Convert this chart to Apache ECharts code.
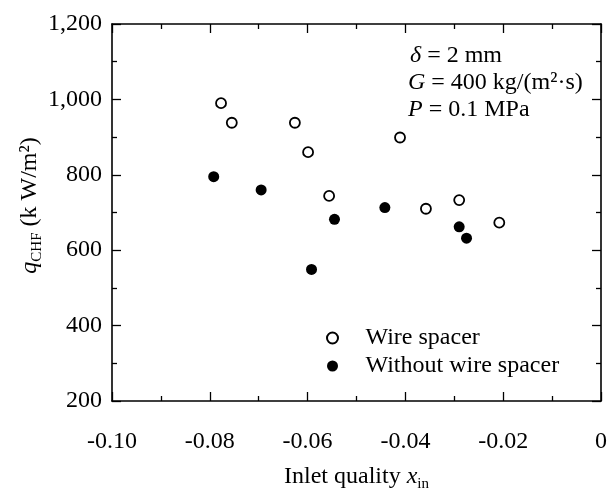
<!DOCTYPE html>
<html>
<head>
<meta charset="utf-8">
<script src="https://cdn.jsdelivr.net/npm/echarts@6/dist/echarts.min.js"></script>
<style>html,body{margin:0;padding:0;background:#fff;}#c{width:607px;height:490px;}</style>
</head>
<body>
<div id="c"></div>
<script>
// Data
const wireX = [-0.0777, -0.0755, -0.0626, -0.0599, -0.0411, -0.0556, -0.0358, -0.0290, -0.0208];
const wireY = [990, 938, 938, 860, 899, 744, 710, 733, 673];
const noWireX = [-0.0792, -0.0695, -0.0592, -0.0545, -0.0442, -0.0290, -0.0275];
const noWireY = [795, 760, 549, 682, 713, 662, 632];
const seriesNames = ['Wire spacer', 'Without wire spacer'];
const xTicks = { min: -0.10, max: 0, step: 0.02 };
const yTicks = { min: 200, max: 1200, step: 200 };

const FONT = 'Liberation Serif';
const pair = (xs, ys) => xs.map((x, i) => [x, ys[i]]);
const fmtX = v => (Math.abs(v) < 1e-9 ? '0' : v.toFixed(2));
const fmtY = v => String(Math.round(v)).replace(/\B(?=(\d{3})+(?!\d))/g, ',');

const baseAxis = {
  axisLine: { show: true, onZero: false, lineStyle: { color: '#000', width: 1.6 } },
  axisTick: { show: true, inside: true, length: 9, lineStyle: { color: '#000', width: 1.3 } },
  minorTick: { show: true, splitNumber: 2, length: 5, lineStyle: { color: '#000', width: 1.3 } },
  splitLine: { show: false },
  minorSplitLine: { show: false }
};
const labelStyle = { color: '#000', fontFamily: FONT, fontSize: 24 };
const rich = {
  t: { fontFamily: FONT, fontSize: 24, color: '#000', lineHeight: 30 },
  i: { fontFamily: FONT, fontSize: 24, fontStyle: 'italic', color: '#000', lineHeight: 30 },
  sub: { fontFamily: FONT, fontSize: 15, color: '#000', lineHeight: 16, verticalAlign: 'bottom' }
};

const chart = echarts.init(document.getElementById('c'), null, { renderer: 'canvas' });
chart.setOption({
  animation: false,
  backgroundColor: '#fff',
  grid: { left: 112, right: 6, top: 24, bottom: 89, containLabel: false, outerBoundsMode: 'none' },
  xAxis: [
    Object.assign({}, baseAxis, {
      type: 'value', position: 'bottom', min: xTicks.min, max: xTicks.max, interval: xTicks.step,
      axisLabel: Object.assign({ margin: 29, formatter: fmtX }, labelStyle),
      name: '{t|Inlet quality }{i|x}{sub|in}', nameLocation: 'middle', nameGap: 61,
      nameMoveOverlap: false,
      nameTextStyle: { rich: rich }
    }),
    Object.assign({}, baseAxis, {
      type: 'value', position: 'top', min: xTicks.min, max: xTicks.max, interval: xTicks.step,
      axisLabel: { show: false }
    })
  ],
  yAxis: [
    Object.assign({}, baseAxis, {
      type: 'value', position: 'left', min: yTicks.min, max: yTicks.max, interval: yTicks.step,
      axisLabel: Object.assign({ margin: 10, formatter: fmtY }, labelStyle),
      name: '{i|q}{sub|CHF}{t| (k W/m²)}', nameLocation: 'middle', nameGap: 67, nameRotate: 90,
      nameMoveOverlap: false,
      nameTextStyle: { rich: rich, padding: [0, 0, 0, 14] }
    }),
    Object.assign({}, baseAxis, {
      type: 'value', position: 'right', min: yTicks.min, max: yTicks.max, interval: yTicks.step,
      axisLabel: { show: false }
    })
  ],
  legend: {
    orient: 'vertical', left: 321, top: 321, itemWidth: 56, itemHeight: 11, itemGap: 4,
    data: seriesNames,
    textStyle: { fontFamily: FONT, fontSize: 24, color: '#000' }
  },
  graphic: [
    { type: 'text', left: 410, top: 44, style: { text: '{i|δ}{t| = 2 mm}', rich: rich } },
    { type: 'text', left: 408, top: 71, style: { text: '{i|G}{t| = 400 kg/(m²·s)}', rich: rich } },
    { type: 'text', left: 408, top: 98, style: { text: '{i|P}{t| = 0.1 MPa}', rich: rich } }
  ],
  series: [
    {
      name: seriesNames[0], type: 'scatter', xAxisIndex: 0, yAxisIndex: 0,
      symbol: 'circle', symbolSize: 10,
      itemStyle: { color: '#fff', borderColor: '#000', borderWidth: 1.8, opacity: 1 },
      data: pair(wireX, wireY)
    },
    {
      name: seriesNames[1], type: 'scatter', xAxisIndex: 0, yAxisIndex: 0,
      symbol: 'circle', symbolSize: 11,
      itemStyle: { color: '#000', borderColor: '#000', borderWidth: 0, opacity: 1 },
      data: pair(noWireX, noWireY)
    }
  ]
});
</script>
</body>
</html>
